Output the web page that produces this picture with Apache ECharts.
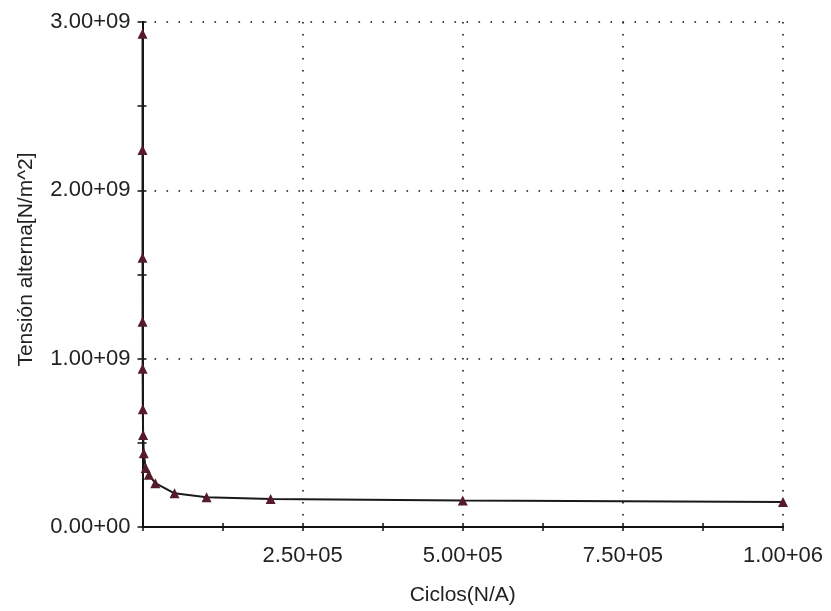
<!DOCTYPE html>
<html>
<head>
<meta charset="utf-8">
<script src="https://cdn.jsdelivr.net/npm/echarts@6/dist/echarts.min.js"></script>
<style>
html,body{margin:0;padding:0;background:#fff;}
#chart{width:831px;height:611px;}
</style>
</head>
<body>
<div id="chart"></div>
<script>
// Data
const cycles = [10, 20, 50, 100, 200, 500, 1000, 2000, 5000, 10000, 20000, 50000, 100000, 200000, 500000, 1000000];
const stress = [2.93e9, 2.24e9, 1.60e9, 1.22e9, 0.94e9, 0.70e9, 0.546e9, 0.438e9, 0.35e9, 0.31e9, 0.26e9, 0.20e9, 0.177e9, 0.166e9, 0.157e9, 0.149e9];
const xTitle = 'Ciclos(N/A)';
const yTitle = 'Tensión alterna[N/m^2]';
const xRange = [0, 1000000];
const yRange = [0, 3e9];

function fmt(v) {
  if (v === 0) return '0.00+00';
  const e = Math.floor(Math.log10(Math.abs(v)) + 1e-9);
  const m = v / Math.pow(10, e);
  return m.toFixed(2) + '+' + (e < 10 ? '0' + e : '' + e);
}

const font = 'Liberation Sans, Arial, sans-serif';
const data = cycles.map((c, i) => [c, stress[i]]);

const chart = echarts.init(document.getElementById('chart'), null, {renderer: 'canvas'});
chart.setOption({
  backgroundColor: '#ffffff',
  animation: false,
  grid: {left: 142.5, right: 48, top: 22, bottom: 82.5, containLabel: false},
  xAxis: [{
    type: 'value', min: xRange[0], max: xRange[1], interval: 250000,
    name: xTitle, nameLocation: 'middle', nameGap: 58,
    nameTextStyle: {fontFamily: font, fontSize: 21, color: '#222'},
    axisLine: {show: true, onZero: false, lineStyle: {color: '#111', width: 2}},
    axisTick: {show: true, length: 4, lineStyle: {color: '#111', width: 1.5}},
    minorTick: {show: true, splitNumber: 2, length: 4, lineStyle: {color: '#111', width: 1.5}},
    axisLabel: {fontFamily: font, fontSize: 22, color: '#222', margin: 18,
      formatter: v => v === 0 ? '' : fmt(v)},
    splitLine: {show: true, lineStyle: {color: '#111', width: 1.6, type: [1.6, 10.4]}}
  }, {
    type: 'value', min: xRange[0], max: xRange[1], interval: 250000, position: 'bottom',
    axisLine: {show: false, onZero: false},
    axisTick: {show: true, inside: true, length: 4, lineStyle: {color: '#111', width: 1.5}},
    minorTick: {show: true, splitNumber: 2, length: 4, lineStyle: {color: '#111', width: 1.5}},
    axisLabel: {show: false},
    splitLine: {show: false}
  }],
  yAxis: [{
    type: 'value', min: yRange[0], max: yRange[1], interval: 1e9,
    name: yTitle, nameLocation: 'middle', nameGap: 106, nameRotate: 90,
    nameTextStyle: {fontFamily: font, fontSize: 21, color: '#222', padding: [0, 0, 0, 30]},
    axisLine: {show: true, onZero: false, lineStyle: {color: '#111', width: 2}},
    axisTick: {show: true, length: 5, lineStyle: {color: '#111', width: 1.5}},
    minorTick: {show: true, splitNumber: 2, length: 5, lineStyle: {color: '#111', width: 1.5}},
    axisLabel: {fontFamily: font, fontSize: 22, color: '#222', margin: 12, formatter: v => fmt(v)},
    splitLine: {show: true, lineStyle: {color: '#111', width: 1.6, type: [1.6, 10.4]}}
  }, {
    type: 'value', min: yRange[0], max: yRange[1], interval: 1e9, position: 'left',
    axisLine: {show: false, onZero: false},
    axisTick: {show: true, inside: true, length: 4, lineStyle: {color: '#111', width: 1.5}},
    minorTick: {show: true, splitNumber: 2, length: 4, lineStyle: {color: '#111', width: 1.5}},
    axisLabel: {show: false},
    splitLine: {show: false}
  }],
  series: [{
    type: 'line',
    xAxisIndex: 0, yAxisIndex: 0,
    data: data,
    symbol: 'triangle',
    symbolSize: 10,
    showAllSymbol: true,
    itemStyle: {color: '#561a2a'},
    lineStyle: {color: '#1a1a1a', width: 2},
    z: 5
  }]
});
</script>
</body>
</html>
